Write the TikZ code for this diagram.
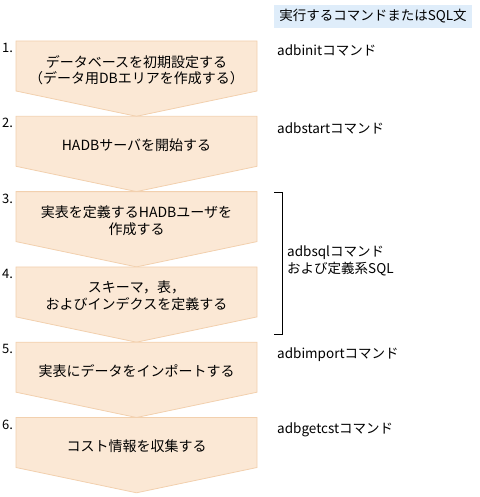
\documentclass[tikz,border=0pt]{standalone}
\usepackage{fontspec}
\setmainfont{Noto Sans CJK JP}
\usetikzlibrary{positioning}

\definecolor{stepfill}{HTML}{FBE8D5}
\definecolor{stepline}{HTML}{F2D0AE}
\definecolor{headfill}{HTML}{DFEDFA}

\tikzset{
  stepbox/.style={fill=stepfill, draw=stepline, line width=0.8pt},
  steptext/.style={align=center, font=\fontsize{14}{16.5}\selectfont, inner sep=0pt},
  num/.style={anchor=west, font=\fontsize{13}{14}\selectfont, inner sep=0pt},
  cmd/.style={anchor=west, align=left, font=\fontsize{13.5}{17}\selectfont, inner sep=0pt},
}

\begin{document}
\begin{tikzpicture}[x=1pt, y=-1pt]
  \useasboundingbox (0,0) rectangle (479,497);
  \def\lx{16}
  \def\rx{257}
  \def\mx{136.5}

  % header of the command column
  \node[fill=headfill, minimum width=198pt, minimum height=23pt, inner sep=0pt,
        font=\fontsize{13.5}{16}\selectfont] (head) at (373,16.5) {実行するコマンドまたはSQL文};

  % the six steps
  \foreach \n/\top/\txt in {
      1/41/{データベースを初期設定する\\（データ用DBエリアを作成する）},
      2/116.3/{HADBサーバを開始する},
      3/191.6/{実表を定義するHADBユーザを\\作成する},
      4/266.9/{スキーマ，表，\\およびインデクスを定義する},
      5/342.2/{実表にデータをインポートする},
      6/417.5/{コスト情報を収集する}} {
    \draw[stepbox] (\lx,\top) -- (\rx,\top) -- (\rx,\top+50) -- (\mx,\top+75.3)
      -- (\lx,\top+50) -- cycle;
    \node[steptext] (s\n) at (\mx,\top+29) {\txt};
    \node[num] (n\n) at (2,\top+7) {\n.};
  }

  % commands
  \node[cmd] (c1) at (277,50) {adbinitコマンド};
  \node[cmd] (c2) at (277,128) {adbstartコマンド};
  \node[cmd] (c3) at (287,261) {adbsqlコマンド\\および定義系SQL};
  \node[cmd] (c5) at (277,354.5) {adbimportコマンド};
  \node[cmd] (c6) at (277,430) {adbgetcstコマンド};

  % bracket over steps 3 and 4
  \coordinate (btop) at (274,192);
  \coordinate (bbot) at (274,334);
  \draw[line width=0.8pt] (btop) -- ++(8,0) |- (bbot);
\end{tikzpicture}
\end{document}
